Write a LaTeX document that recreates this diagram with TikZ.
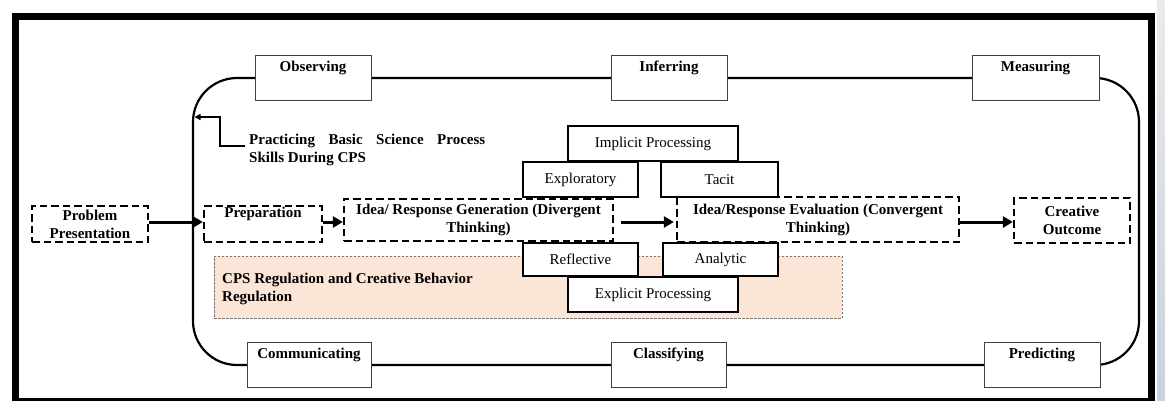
\documentclass[tikz,border=0pt]{standalone}
\usepackage{fontspec}
\setmainfont{Liberation Serif}
\usetikzlibrary{arrows.meta,calc}
\definecolor{peach}{RGB}{251,229,214}
\definecolor{edgeblue}{RGB}{200,210,225}
\begin{document}
\begin{tikzpicture}[x=1pt,y=-1pt,
  font=\fontsize{15}{18}\selectfont,
  skill/.style={draw=black!75, line width=0.9pt, fill=white, rectangle, inner sep=0pt, align=center, font=\fontsize{15}{18}\selectfont\bfseries},
  stage/.style={draw=black, line width=2.3pt, dash pattern=on 7.5pt off 4pt, fill=white, rectangle, inner sep=0pt, align=center, font=\fontsize{15}{18}\selectfont\bfseries},
  proc/.style={draw=black, line width=2.3pt, fill=white, rectangle, inner sep=0pt, align=center, font=\fontsize{15}{18}\selectfont},
  flow/.style={line width=3pt, -{Triangle[length=10pt,width=11pt]}},
  loopline/.style={line width=2.2pt},
  lbl/.style={inner sep=0pt, anchor=base west, font=\fontsize{15}{18}\selectfont\bfseries},
]
\useasboundingbox (0,0) rectangle (1165,401);
% page edge shadow
\shade[top color=black!8, bottom color=edgeblue] (1157,0) rectangle (1165,401);
% outer frame
\draw[line width=7pt] (15.5,16.5) rectangle (1151.5,401);

% regulation area
\node[draw=black!55, line width=0.8pt, dash pattern=on 2.5pt off 1.5pt, fill=peach, minimum width=628pt, minimum height=62pt, inner sep=0pt, anchor=north west] (cps) at (214,256) {};
\node[lbl] (cps1) at (222,283) {CPS Regulation and Creative Behavior};
\node[lbl] (cps2) at (222,301) {Regulation};

% loop of science process skills
\coordinate (ltop) at (193,78);
\coordinate (lbot) at (193,365);
\coordinate (rbot) at (1139,365);
\coordinate (rtop) at (1139,78);
\coordinate (lstart) at (313,78);
\draw[loopline, rounded corners=44pt] (lstart) -- (ltop) -- (lbot) -- (rbot) -- (rtop) -- (lstart);

\node[skill, minimum width=116pt, minimum height=45pt] (obs) at (313,78) {Observing\\\strut};
\node[skill, minimum width=116pt, minimum height=45pt] (inf) at (669,78) {Inferring\\\strut};
\node[skill, minimum width=127pt, minimum height=45pt] (mea) at (1035.5,78) {Measuring\\\strut};
\node[skill, minimum width=124pt, minimum height=45pt] (com) at (309,365) {Communicating\\\strut};
\node[skill, minimum width=115pt, minimum height=45pt] (cla) at (668.5,365) {Classifying\\\strut};
\node[skill, minimum width=116pt, minimum height=45pt] (prd) at (1042,365) {Predicting\\\strut};

% label and arrow to the loop
\node[lbl] (psp1) at (249,145) {\makebox[236pt][s]{Practicing Basic Science Process}};
\node[lbl] (psp2) at (249,163) {Skills During CPS};
\coordinate (pa) at (245,146);
\coordinate (pb) at (220,146);
\coordinate (pc) at (220,117);
\coordinate (lp) at (194.5,117);
\draw[line width=1.8pt, -{Triangle[length=6pt,width=6pt]}] (pa) -- (pb) -- (pc) -- (lp);

% CPS stages
\node[stage, minimum width=116pt, minimum height=36pt] (prob) at (90,224) {Problem\\Presentation};
\node[stage, minimum width=118pt, minimum height=36pt] (prep) at (263,224) {Preparation\\\strut};
\node[stage, minimum width=269pt, minimum height=42pt] (gen) at (478.5,220) {Idea/ Response Generation (Divergent\\Thinking)};
\node[stage, minimum width=282pt, minimum height=45pt] (eval) at (818,219.5) {Idea/Response Evaluation (Convergent\\Thinking)};
\node[stage, minimum width=116pt, minimum height=45pt] (cre) at (1072,220.5) {Creative\\Outcome};

\coordinate (row) at (0,222);
\draw[flow] (prob.east |- row) -- (prep.west |- row);
\draw[flow] (prep.east |- row) -- (gen.west |- row);
\draw[flow, shorten <=7pt, shorten >=2pt] (gen.east |- row) -- (eval.west |- row);
\draw[flow] (eval.east |- row) -- (cre.west |- row);

% processing boxes
\node[proc, minimum width=170pt, minimum height=35pt] (imp) at (653,143.5) {Implicit Processing};
\node[proc, minimum width=115pt, minimum height=35pt] (expl) at (580.5,179.5) {Exploratory};
\node[proc, minimum width=117pt, minimum height=35pt] (tac) at (719.5,179.5) {Tacit};
\node[proc, minimum width=115pt, minimum height=33pt] (ref) at (580.5,259.5) {Reflective};
\node[proc, minimum width=115pt, minimum height=33pt] (ana) at (720.5,259.5) {Analytic};
\node[proc, minimum width=170pt, minimum height=35pt] (exp) at (653,294.5) {Explicit Processing};
\end{tikzpicture}
\end{document}
